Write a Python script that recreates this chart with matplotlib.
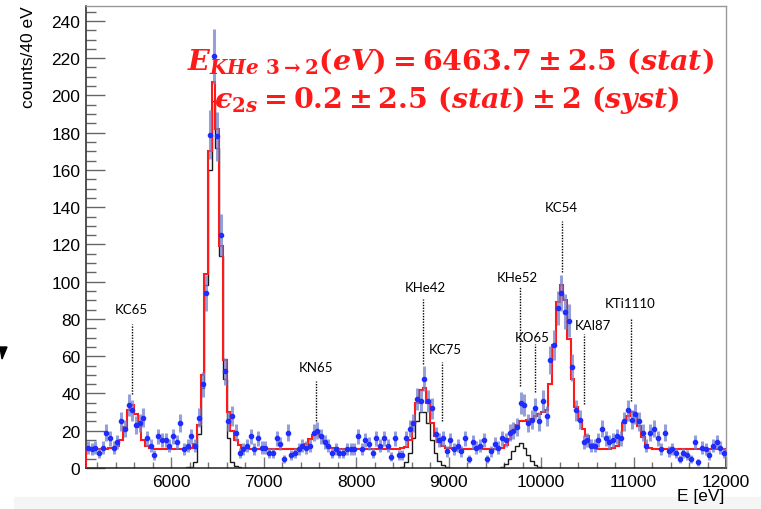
import numpy as np
import matplotlib
matplotlib.use('Agg')
import matplotlib.pyplot as plt
from matplotlib.ticker import MultipleLocator
from matplotlib.patches import Polygon, Rectangle

# 40 eV bins, first bin starts at 5080 eV
bin_start = 5080
bin_width = 40

# measured counts per bin (bin centres 5100, 5140, ... 11980)
counts = [
    11, 10, 11, 8, 11, 19, 16, 11, 14, 25,        # 5100
    21, 34, 31, 23, 24, 27, 16, 12, 7, 17,        # 5500
    15, 15, 12, 17, 14, 24, 10, 12, 17, 12,       # 5900
    27, 45, 94, 179, 221, 178, 125, 52, 25, 28,   # 6300
    19, 8, 10, 12, 17, 10, 16, 11, 11, 8,         # 6700
    8, 16, 13, 5, 19, 7, 8, 10, 12, 11,           # 7100
    12, 19, 20, 17, 14, 12, 8, 10, 8, 8,          # 7500
    10, 10, 10, 17, 10, 15, 13, 8, 16, 12,        # 7900
    16, 12, 6, 16, 7, 7, 16, 21, 24, 37,          # 8300
    36, 48, 36, 32, 18, 15, 16, 9, 15, 10,        # 8700
    12, 9, 16, 5, 14, 11, 12, 15, 5, 9,           # 9100
    13, 11, 16, 15, 19, 20, 22, 35, 34, 24,       # 9500
    26, 32, 25, 36, 28, 58, 66, 86, 94, 84,       # 9900
    79, 54, 31, 26, 14, 15, 12, 12, 15, 21,       # 10300
    16, 14, 15, 17, 16, 25, 31, 26, 29, 25,       # 10700
    19, 12, 19, 21, 16, 10, 19, 9, 10, 8,         # 11100
    5, 8, 7, 5, 14, 3, 11, 10, 7, 12,             # 11500
    14, 11, 8,                                    # 11900
]

# total fit (red histogram)
fit_total = [
    10, 10, 10, 10, 10, 10.2, 10.5, 11, 12, 15,
    22, 31, 34, 29, 22, 15, 12, 10.8, 10.3, 10,
    10, 10, 10, 10, 10, 10, 10, 10.2, 11, 13,
    23, 50, 104, 170, 207, 182, 119, 58, 30, 20,
    15, 12.5, 11, 10.5, 10.3, 10.2, 10, 10, 10, 10,
    10, 10, 10, 10, 10, 10, 10, 10, 11.5, 13,
    15.5, 17.5, 18.5, 17, 14.5, 12, 11, 10.5, 10.2, 10,
    10, 10, 10, 10, 10, 10, 10, 10, 10, 10,
    10, 10, 10, 10, 10, 10.5, 11.5, 15, 24, 35,
    42, 43, 35, 24, 17, 14, 12, 11, 10.6, 10.3,
    10, 10, 10, 10, 10, 10, 10, 10, 10, 10,
    10, 10, 11, 12.5, 15.5, 20, 23, 25, 25, 25.5,
    26.5, 28, 29, 30, 31, 45, 66, 89, 98, 90,
    69, 48, 33, 26, 21, 17, 13, 11, 10.3, 10,
    10, 10, 10.5, 12, 16.5, 24, 28, 30, 28, 22.5,
    16.5, 12.5, 10.8, 10, 10, 10, 10, 10, 10, 10,
    10, 10, 10, 10, 10, 10, 10, 10, 10, 10,
    10, 10, 10,
]

# KHe component (black histogram)
fit_khe = [
    0, 0, 0, 0, 0, 0, 0, 0, 0, 0,
    0, 0, 0, 0, 0, 0, 0, 0, 0, 0,
    0, 0, 0, 0, 0, 0, 0, 0.3, 0.8, 3,
    18, 43, 98, 160, 197, 172, 114, 48, 16, 3,
    1, 0.4, 0, 0, 0, 0, 0, 0, 0, 0,
    0, 0, 0, 0, 0, 0, 0, 0, 0, 0,
    0, 0, 0, 0, 0, 0, 0, 0, 0, 0,
    0, 0, 0, 0, 0, 0, 0, 0, 0, 0,
    0, 0, 0, 0, 0, 0.3, 3, 8, 16, 25,
    30, 30, 24, 15, 8, 4, 1.5, 0.5, 0, 0,
    0, 0, 0, 0, 0, 0, 0, 0, 0, 0,
    0, 0, 0.5, 2, 5, 9, 12, 13.5, 11, 7,
    4, 1.5, 0.5, 0, 0, 0, 0, 0, 0, 0,
    0, 0, 0, 0, 0, 0, 0, 0, 0, 0,
    0, 0, 0, 0, 0, 0, 0, 0, 0, 0,
    0, 0, 0, 0, 0, 0, 0, 0, 0, 0,
    0, 0, 0, 0, 0, 0, 0, 0, 0, 0,
    0, 0, 0,
]

# transition labels
line_names = ['KC65', 'KN65', 'KHe42', 'KC75', 'KHe52', 'KO65', 'KC54', 'KAl87', 'KTi1110']
line_energy = [5577, 7567, 8720, 8929, 9769, 9934, 10223, 10461, 10969]
text_x = [5571, 7567, 8745, 8961, 9740, 9899, 10223, 10561, 10962]
text_y = [85.5, 54.3, 97.3, 64, 102.7, 70.4, 140.3, 76.9, 88.7]
mark_top = [77.4, 46.8, 90.9, 57, 97.3, 66.7, 132.8, 72, 80.1]
mark_bottom = [39.8, 25.3, 55.9, 25.3, 44, 40.9, 105.4, 34.4, 36]

counts = np.array(counts, dtype=float)
edges = bin_start + bin_width * np.arange(len(counts) + 1)
centres = edges[:-1] + bin_width / 2

plt.rcParams['font.family'] = 'Liberation Sans'
plt.rcParams['mathtext.fontset'] = 'custom'
plt.rcParams['mathtext.rm'] = 'DejaVu Serif:bold'
plt.rcParams['mathtext.bf'] = 'DejaVu Serif:bold'
plt.rcParams['mathtext.it'] = 'DejaVu Serif:italic:bold'

fig = plt.figure(figsize=(7.61, 5.10), dpi=100)
ax = fig.add_axes([86/761, 41/510, 640/761, 462/510])

ax.stairs(fit_khe, edges, color='#1a1a1a', lw=1.0, zorder=2)
ax.stairs(fit_total, edges, color='#ff1a1a', lw=1.5, zorder=3)
ax.errorbar(centres, counts, yerr=np.sqrt(counts), fmt='o', ms=3.0,
            color='#1f2cff', ecolor=(0.45, 0.5, 0.8, 0.75), elinewidth=2.2,
            capsize=0, zorder=4)

for name, e, tx, ty, top, bot in zip(line_names, line_energy, text_x, text_y,
                                       mark_top, mark_bottom):
    ax.plot([e, e], [bot, top], color='black', lw=1.0, ls=(0, (1, 1)), zorder=5)
    ax.text(tx, ty, name, ha='center', va='center', fontsize=9.5,
            family='Lato', color='black')

ax.set_xlim(5080, 12000)
ax.set_ylim(0, 248)
ax.xaxis.set_major_locator(MultipleLocator(1000))
ax.xaxis.set_minor_locator(MultipleLocator(200))
ax.yaxis.set_major_locator(MultipleLocator(20))
ax.yaxis.set_minor_locator(MultipleLocator(5))
ax.tick_params(axis='y', which='major', direction='in', length=13.5, width=1,
               color='#666666', labelsize=12.5, pad=4)
ax.tick_params(axis='y', which='minor', direction='in', length=7, width=1,
               color='#666666')
ax.tick_params(axis='x', which='major', direction='in', length=8, width=1,
               color='#777777', labelsize=12.5, pad=4)
ax.tick_params(axis='x', which='minor', direction='in', length=4.5, width=1,
               color='#777777')
for s in ['left', 'bottom']:
    ax.spines[s].set_color('#222222')
    ax.spines[s].set_linewidth(1.1)
for s in ['top', 'right']:
    ax.spines[s].set_color('#999999')
    ax.spines[s].set_linewidth(1.0)

fig.text(28.5/761, 1 - 6/510, 'counts/40 eV', rotation=90, ha='center',
         va='top', fontsize=12.5)
fig.text(724/761, 1 - 497/510, 'E [eV]', ha='right', va='center', fontsize=12.5)

fig.text(450/761, 1 - 69.5/510,
         r'$E_{KHe\ 3\rightarrow 2}(eV) = 6463.7 \pm 2.5\ (stat)$',
         color='#ff1a1a', fontsize=20.5, ha='center', va='baseline')
fig.text(447/761, 1 - 108/510,
         '$\u03f5_{2s} = 0.2 \\pm 2.5\\ (stat) \\pm 2\\ (syst)$',
         color='#ff1a1a', fontsize=20.5, ha='center', va='baseline')

# leftover bits at the edges of the original slide
fig.patches.append(Rectangle((14/761, 0), 1, 12/510, transform=fig.transFigure,
                             color='#f5f5f5', zorder=-1))
fig.patches.append(Polygon([(0, 1 - 348/510), (7/761, 1 - 348/510), (2/761, 1 - 360/510)],
                           closed=True, transform=fig.transFigure, color='black'))

fig.savefig('out.png', dpi=100)
